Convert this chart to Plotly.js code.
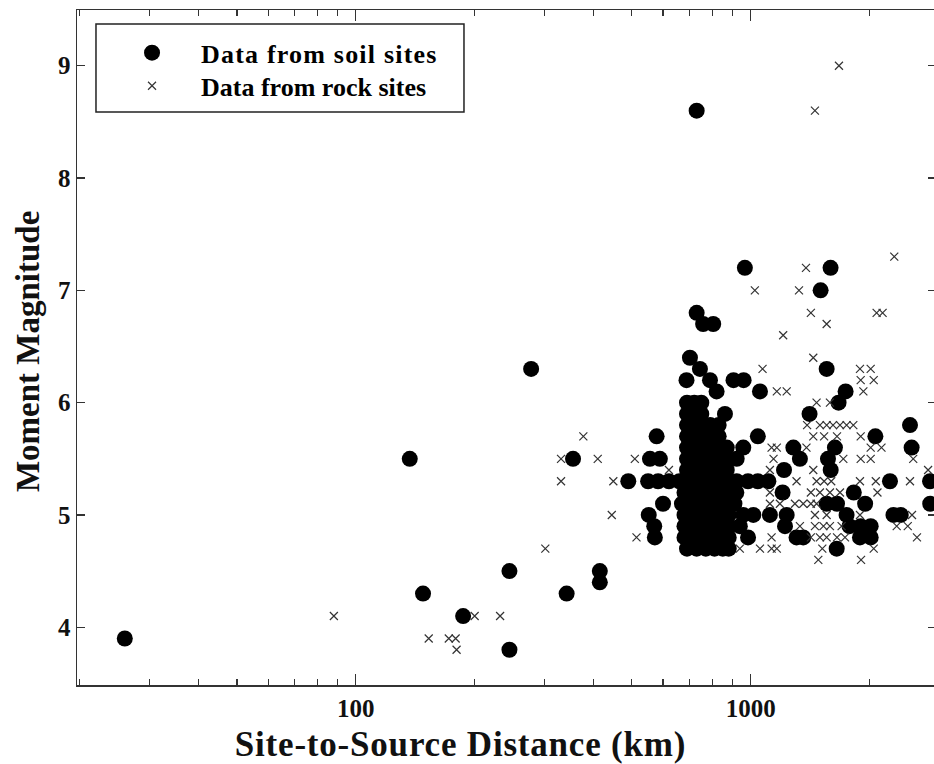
<!DOCTYPE html>
<html><head><meta charset="utf-8">
<script src="https://cdn.plot.ly/plotly-3.0.1.min.js"></script>
<style>html,body{margin:0;padding:0;overflow:hidden;background:#fff}#chart{width:936px;height:764px}
.legendtext{letter-spacing:1.2px}
</style>
</head><body><div id="chart"></div>
<script>
// ---- Soil sites (filled circles) ----
const soilSingleDist = [26,137,148,187,245,245,278,342,355,415,415,
  490,550,583,621,556,589,578,600,552,570,572,
  730,730,758,804,702,744,688,789,905,960,820,1056,
  1740,1670,1410,2533,2070,2557,1283,1635,1333,1570,1595,1215,2254,2847,1109,1205,1825,1950,1558,1655,2850,
  1119,1234,1222,1307,1359,1652,1750,1900,2014,1780,1892,2014,2300,2400,967,1594,1504,1558];
const soilSingleMag = [3.9,5.5,4.3,4.1,4.5,3.8,6.3,4.3,5.5,4.5,4.4,
  5.3,5.3,5.3,5.3,5.5,5.5,5.7,5.1,5.0,4.9,4.8,
  8.6,6.8,6.7,6.7,6.4,6.3,6.2,6.2,6.2,6.2,6.1,6.1,
  6.1,6.0,5.9,5.8,5.7,5.6,5.6,5.6,5.5,5.5,5.4,5.4,5.3,5.3,5.3,5.2,5.2,5.1,5.1,5.1,5.1,
  5.0,5.0,4.9,4.8,4.8,4.7,5.0,4.9,4.9,4.9,4.8,4.8,5.0,5.0,7.2,7.2,7.0,6.3];
// dense cluster, one list of distances per magnitude row
const soilRowMag = [6.0,5.9,5.8,5.7,5.6,5.5,5.4,5.3,5.2,5.1,5.0,4.9,4.8,4.7];
const soilRowDist = [
  [690,720,750],
  [690,720,750,861],
  [690,720,750,790,830],
  [690,720,750,790,830,1043],
  [690,720,750,790,830,870,958],
  [690,720,750,790,830,870,922],
  [690,720,750,790,830,870],
  [660,690,720,750,790,830,870,922,985,1043],
  [680,720,760,800,840,880,920],
  [670,710,750,790,830,870,910],
  [680,720,760,800,840,880,958,1016],
  [680,720,760,800,840,880,939],
  [680,720,760,800,840,880,985],
  [690,730,770,810,850,880]
];
// ---- Rock sites (crosses) ----
const rockSingleDist = [88,153,172,179,180,200,232,302,331,331,377,410,449,509,621,445,514,
  1674,1455,2311,1381,1025,1326,1421,2085,2159,1558,1209,1441,1072,1892,2014,1900,2050,1930,1165,1234,1469,1588];
const rockSingleMag = [4.1,3.9,3.9,3.9,3.8,4.1,4.1,4.7,5.3,5.5,5.7,5.5,5.3,5.5,5.4,5.0,4.8,
  9.0,8.6,7.3,7.2,7.0,7.0,6.8,6.8,6.8,6.7,6.6,6.4,6.3,6.3,6.3,6.2,6.2,6.1,6.1,6.1,6.0,6.0];
const rockRowMag = [5.8,5.7,5.6,5.5,5.4,5.3,5.2,5.1,5.0,4.9,4.8,4.7,4.6];
const rockRowDist = [
  [1390,1498,1558,1617,1684,1750,1820],
  [1441,1535,1655,1900],
  [1130,1165,1385,2014,2145],
  [1143,1717,1900,2014,2581],
  [1119,1441,2815],
  [1307,1469,1535,1600,1892,2075,2533],
  [1119,1421,1498,1588,1684,2095],
  [1119,1186,1295,1359,1421,1469],
  [1455,1558,1892,2563],
  [1333,1455,1529,1588,1700,2344,2500],
  [1130,1421,1498,1558,1655,1734,2638],
  [939,1056,1130,1165,1519,2050],
  [1484,1904]
];
const seriesNames = ['Data from soil sites','Data from rock sites'];
const xTitle = 'Site-to-Source Distance (km)';
const yTitle = 'Moment Magnitude';
const yTickVals = [4,5,6,7,8,9];

function build(singleD, singleM, rowM, rowD){
  const xs = singleD.slice(), ys = singleM.slice();
  rowD.forEach((row,i)=>row.forEach(d=>{xs.push(d); ys.push(rowM[i]);}));
  return {xs, ys};
}
const soil = build(soilSingleDist, soilSingleMag, soilRowMag, soilRowDist);
const rock = build(rockSingleDist, rockSingleMag, rockRowMag, rockRowDist);

const serif = '"Liberation Serif", "Times New Roman", serif';
const traces = [
  {x: soil.xs, y: soil.ys, type:'scatter', mode:'markers', name: seriesNames[0], legend:'legend',
   marker:{symbol:'circle', size:16, color:'#000', line:{width:0}}},
  {x: rock.xs, y: rock.ys, type:'scatter', mode:'markers', name: seriesNames[1], legend:'legend2',
   marker:{symbol:'x-thin-open', size:8, color:'#333', line:{width:1.2, color:'#333'}}}
];
const axisCommon = {showline:true, linecolor:'#333', linewidth:1.5, mirror:'ticks', ticks:'inside',
  tickcolor:'#333', tickwidth:1.3, showgrid:false, zeroline:false,
  tickfont:{family:serif, size:25, color:'#111', weight:'bold'}};
const legendCommon = {x:0.0303, xanchor:'left', yanchor:'top', bgcolor:'rgba(0,0,0,0)', borderwidth:0,
  itemwidth:88, font:{family:serif, size:26, color:'#000', weight:'bold'}};
const layout = {
  width:936, height:764, margin:{l:77, r:0, t:10, b:79},
  paper_bgcolor:'#fff', plot_bgcolor:'#fff', showlegend:true,
  xaxis: Object.assign({}, axisCommon, {type:'log', range:[1.2939, 3.4695], dtick:1, exponentformat:'none', ticklen:11,
    minor:{dtick:'D1', ticks:'inside', ticklen:6, tickwidth:1.2, tickcolor:'#333', showgrid:false}}),
  yaxis: Object.assign({}, axisCommon, {range:[3.486, 9.496], tickvals:yTickVals, ticklen:8}),
  legend: Object.assign({}, legendCommon, {y:0.9715}),
  legend2: Object.assign({}, legendCommon, {y:0.9225}),
  shapes:[{type:'rect', xref:'paper', yref:'paper', x0:0.0221, x1:0.4505, y0:0.8489, y1:0.9793,
    line:{color:'#222', width:1.5}, fillcolor:'rgba(0,0,0,0)'}],
  annotations:[
    {text:xTitle, xref:'paper', yref:'paper', x:0.447, y:-0.0875, xanchor:'center', yanchor:'middle', showarrow:false,
     font:{family:serif, size:35, color:'#111', weight:'bold'}},
    {text:yTitle, xref:'paper', yref:'paper', x:-0.057, y:0.4933, xanchor:'center', yanchor:'middle', showarrow:false, textangle:-90,
     font:{family:serif, size:33, color:'#111', weight:'bold'}}
  ]
};
Plotly.newPlot('chart', traces, layout, {displayModeBar:false, staticPlot:true}).then(()=>{
  const ann = document.querySelectorAll('.annotation-text');
  if (ann.length) ann[0].style.letterSpacing = '0.8px';
});
</script></body></html>
